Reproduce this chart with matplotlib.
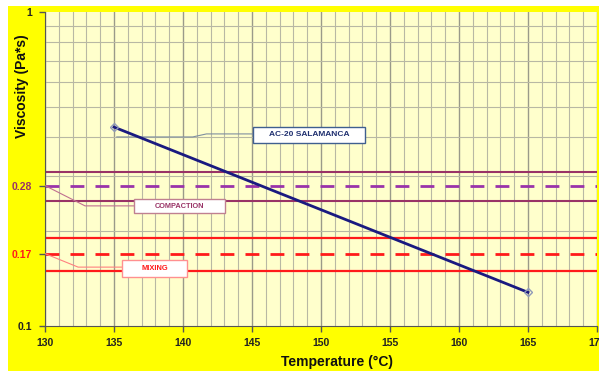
import numpy as np
import matplotlib.pyplot as plt
from matplotlib.patches import Rectangle
from matplotlib.ticker import FixedLocator, NullFormatter

plt.rcParams["font.family"] = ["Liberation Sans", "DejaVu Sans"]

# viscosity-temperature data for the binder
temps = [135, 165]
visc = [0.43, 0.128]
binder_name = "AC-20 SALAMANCA"

# target viscosity bands (centre, low, high)
compaction = [0.28, 0.25, 0.31]
mixing = [0.17, 0.15, 0.19]

x_ticks = [130, 135, 140, 145, 150, 155, 160, 165, 170]
y_ticks = [0.1, 0.17, 0.28, 1]
y_tick_labels = ["0.1", "0.17", "0.28", "1"]

COMP_C = "#993366"
COMP_DASH = "#9933aa"
MIX_C = "#ff1a1a"
LINE_C = "#1a1a80"

W, H = 599, 371
fig = plt.figure(figsize=(W / 100, H / 100), dpi=100, facecolor="white")
fig.patches.append(Rectangle((8 / W, 0), 1 - 8 / W, 1 - 6 / H,
                             transform=fig.transFigure, facecolor="#ffff00",
                             edgecolor="none", zorder=-10))

ax = fig.add_axes([45 / W, 45 / H, 552 / W, 314 / H])
ax.set_facecolor("#ffffcc")
ax.set_yscale("log")
ax.set_xlim(130, 170)
ax.set_ylim(0.1, 1)

# grid: every degree, log decades minor
ax.xaxis.set_minor_locator(FixedLocator(np.arange(130, 171, 1)))
ax.yaxis.set_minor_locator(FixedLocator([0.2, 0.3, 0.4, 0.5, 0.6, 0.7, 0.8, 0.9]))
ax.yaxis.set_minor_formatter(NullFormatter())
ax.grid(True, which="minor", color="#b8b8a4", lw=0.8, zorder=0)
ax.grid(True, which="major", axis="x", color="#9a9a8a", lw=1.0, zorder=0)
ax.tick_params(which="minor", length=0)

ax.set_xticks(x_ticks)
ax.set_xticklabels([str(t) for t in x_ticks])
ax.set_yticks(y_ticks)
ax.set_yticklabels(y_tick_labels)
ax.tick_params(axis="both", which="major", length=4, width=1, color="#555555",
               labelsize=7.5, pad=5)
for lbl in ax.get_xticklabels() + ax.get_yticklabels():
    lbl.set_fontweight("bold")
    lbl.set_color("#222222")
ax.get_yticklabels()[1].set_color(MIX_C)
ax.get_yticklabels()[2].set_color(COMP_C)

for side in ["top", "right"]:
    ax.spines[side].set_visible(False)
ax.spines["left"].set_color("#555555")
ax.spines["bottom"].set_color("#555555")

# viscosity bands
ax.axhline(compaction[2], color=COMP_C, lw=1.5, zorder=2)
ax.axhline(compaction[1], color=COMP_C, lw=1.5, zorder=2)
ax.axhline(compaction[0], color=COMP_DASH, lw=2, ls=(0, (5, 4)), zorder=2)
ax.axhline(mixing[2], color=MIX_C, lw=1.6, zorder=2)
ax.axhline(mixing[1], color=MIX_C, lw=1.6, zorder=2)
ax.axhline(mixing[0], color=MIX_C, lw=2, ls=(0, (5, 4)), zorder=2)

# binder line
ax.plot(temps, visc, color=LINE_C, lw=2, zorder=4, marker="D", ms=4,
        mfc="none", mec="#8f9ab8", mew=1)


def label_box(x0, x1, y0, y1, text, tc, ec, size):
    ax.add_patch(Rectangle((x0, y0), x1 - x0, y1 - y0, facecolor="white",
                           edgecolor=ec, lw=1, zorder=5))
    ax.text((x0 + x1) / 2, np.sqrt(y0 * y1), text, ha="center", va="center",
            fontsize=size, fontweight="bold", color=tc, zorder=6)


# labels with leader lines
ax.plot([135.2, 140.7, 141.7, 145.07], [0.40, 0.40, 0.409, 0.409],
        color="#7f8fa0", lw=0.8, zorder=3)
label_box(145.07, 153.19, 0.3826, 0.4304, binder_name, "#1f2f6f", "#3f5f8f", 6)

ax.plot([130, 132.9, 136.45], [0.28, 0.2413, 0.2413], color="#c07090", lw=0.8, zorder=3)
label_box(136.45, 143.04, 0.229, 0.2538, "COMPACTION", COMP_C, "#c08090", 5.3)

ax.plot([130, 132.4, 135.58], [0.17, 0.154, 0.154], color="#ff8080", lw=0.8, zorder=3)
label_box(135.58, 140.29, 0.1432, 0.1622, "MIXING", MIX_C, "#ff9090", 5.4)

fig.text(22 / W, 1 - 86 / H, "Viscosity (Pa*s)", rotation=90, ha="center",
         va="center", fontsize=10, fontweight="bold", color="#111111")
fig.text(337 / W, 1 - 362 / H, "Temperature (°C)", ha="center", va="center",
         fontsize=10, fontweight="bold", color="#111111")

fig.savefig("out.png", dpi=100, facecolor=fig.get_facecolor())
